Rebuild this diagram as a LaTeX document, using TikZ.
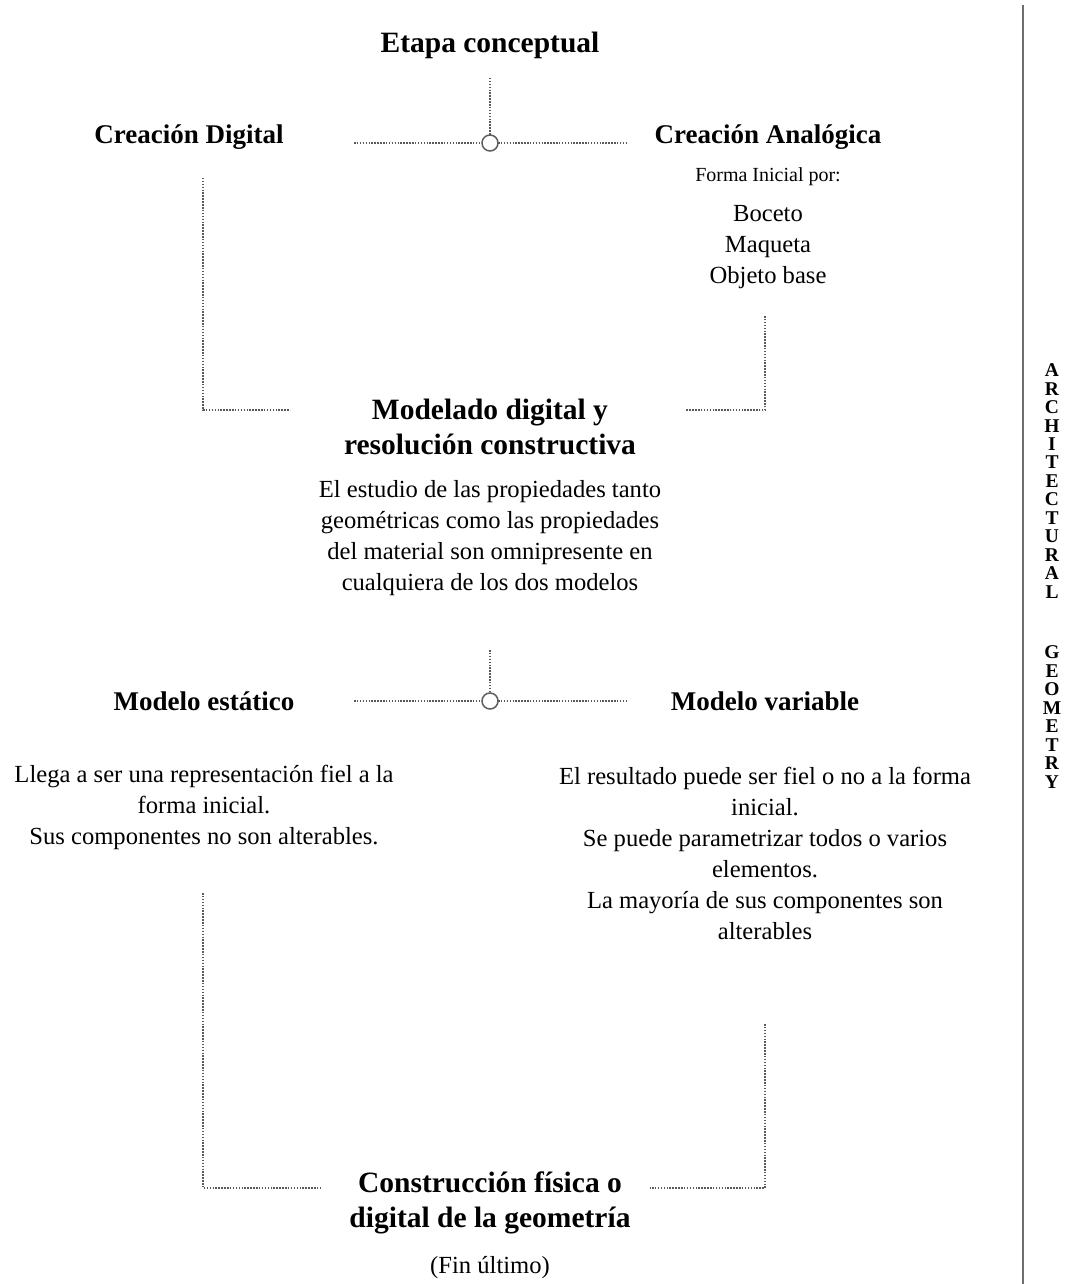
\documentclass[tikz,border=0pt]{standalone}
\usepackage{fontspec}
\setmainfont{Liberation Serif}
\begin{document}
\begin{tikzpicture}[x=1pt,y=-1pt,
  every node/.style={inner sep=0pt,outer sep=0pt,text=black},
  mainhead/.style={font=\fontsize{29.5}{35}\selectfont\bfseries,align=center},
  sidehead/.style={font=\fontsize{27}{32}\selectfont\bfseries,align=center},
  bodytext/.style={font=\fontsize{24.6}{31}\selectfont,align=center},
  smalltext/.style={font=\fontsize{20}{24}\selectfont,align=center},
  sidetext/.style={font=\fontsize{19.5}{18.45}\selectfont\bfseries,align=center},
  link/.style={draw={rgb,255:red,90;green,90;blue,90},line width=1.6pt,dash pattern=on 1.5pt off 1.4pt},
  junction/.style={circle,draw={rgb,255:red,95;green,95;blue,95},fill=white,line width=1.5pt,minimum size=16pt},
]
\useasboundingbox[fill=white] (0,0) rectangle (1091,1284);

% upper stage
\node[mainhead] (etapa) at (490,45) {Etapa conceptual};
\node[sidehead] (cdig) at (189,137) {Creación Digital};
\node[sidehead] (cana) at (768,137) {Creación Analógica};
\node[smalltext] (forma) at (768,177) {Forma Inicial por:};
\node[bodytext] (lista) at (768,247) {Boceto\\Maqueta\\Objeto base};
\node[junction] (j1) at (490,143) {};

\node[mainhead] (model) at (490,427) {Modelado digital y\\resolución constructiva};
\node[bodytext] (estudio) at (490,538) {El estudio de las propiedades tanto\\geométricas como las propiedades\\del material son omnipresente en\\cualquiera de los dos modelos};

% free ends of the upper connectors
\coordinate (t1) at (490,78);
\coordinate (hl1) at (354,143);
\coordinate (hr1) at (627,143);
\coordinate (bl1) at (203,178);
\coordinate (bl2) at (290,410);
\coordinate (br1) at (765,316);
\coordinate (br2) at (686,410);

\draw[link] (t1) -- (j1.north);
\draw[link] (hl1) -- (j1.west);
\draw[link] (j1.east) -- (hr1);
\draw[link] (bl1) |- (bl2);
\draw[link] (br1) |- (br2);

% lower stage
\node[junction] (j2) at (490,701) {};
\node[sidehead] (mest) at (204,701) {Modelo estático};
\node[sidehead] (mvar) at (765,701) {Modelo variable};
\node[bodytext] (pest) at (204,807) {Llega a ser una representación fiel a la\\forma inicial.\\Sus componentes no son alterables.};
\node[bodytext] (pvar) at (765,853) {El resultado puede ser fiel o no a la forma\\inicial.\\Se puede parametrizar todos o varios\\elementos.\\La mayoría de sus componentes son\\alterables};

\node[mainhead] (constr) at (490,1203) {Construcción física o\\digital de la geometría};
\node[bodytext] (fin) at (490,1268) {(Fin último)};

\coordinate (t2) at (490,650);
\coordinate (hl2) at (354,701);
\coordinate (hr2) at (627,701);
\coordinate (cl1) at (203,893);
\coordinate (cl2) at (320,1188);
\coordinate (cr1) at (765,1024);
\coordinate (cr2) at (650,1188);

\draw[link] (t2) -- (j2.north);
\draw[link] (hl2) -- (j2.west);
\draw[link] (j2.east) -- (hr2);
\draw[link] (cl1) |- (cl2);
\draw[link] (cr1) |- (cr2);

% side rule and vertical title
\coordinate (rtop) at (1023,5);
\coordinate (rbot) at (1023,1284);
\draw[draw={rgb,255:red,110;green,110;blue,110},line width=2pt] (rtop) -- (rbot);
\node[sidetext] (arch) at (1052,481) {A\\R\\C\\H\\I\\T\\E\\C\\T\\U\\R\\A\\L};
\node[sidetext] (geom) at (1052,717) {G\\E\\O\\M\\E\\T\\R\\Y};
\end{tikzpicture}
\end{document}
